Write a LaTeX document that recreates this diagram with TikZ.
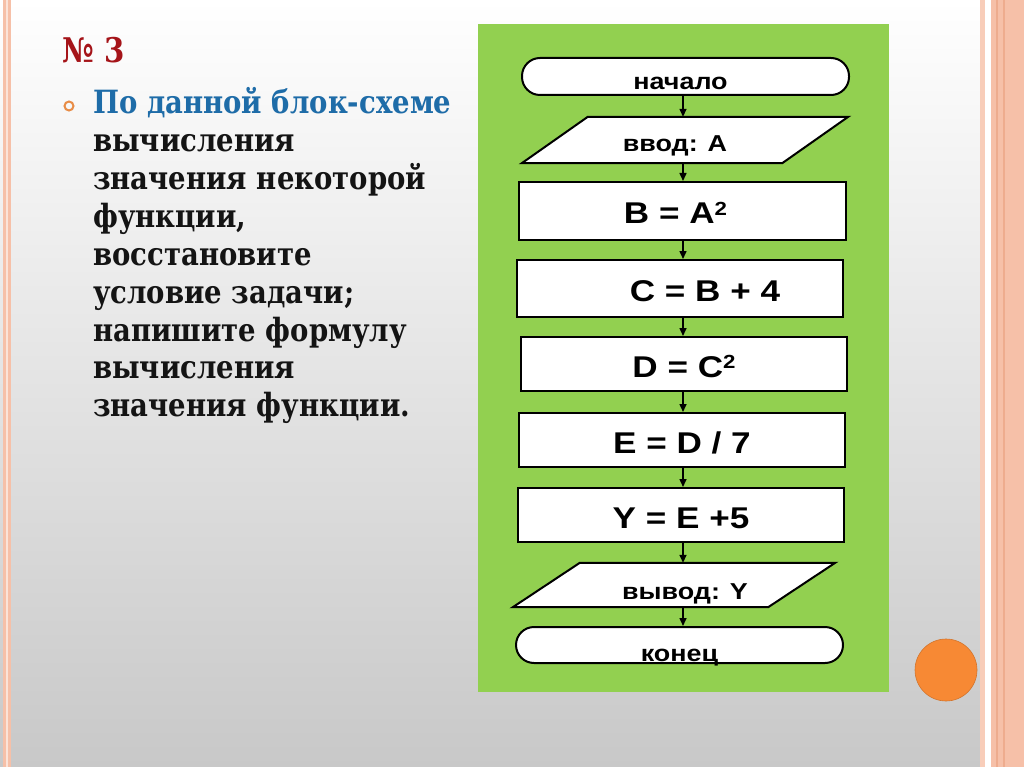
\documentclass[tikz,border=0pt]{standalone}
\usepackage{fontspec}
\newfontfamily\flowfont[FakeStretch=1.17]{Liberation Sans}
\newfontfamily\slidefont[FakeStretch=0.86]{DejaVu Serif}
\usetikzlibrary{arrows.meta}
\pgfdeclarelayer{bglayer}
\pgfdeclarelayer{shapelayer}
\pgfsetlayers{bglayer,shapelayer,main}
\definecolor{panelgreen}{RGB}{146,208,80}
\definecolor{salmon}{RGB}{246,192,168}
\definecolor{salmondk}{RGB}{238,172,142}
\definecolor{orangec}{RGB}{247,137,52}
\definecolor{titlered}{RGB}{165,20,25}
\definecolor{bluetext}{RGB}{30,108,168}
\definecolor{bulletor}{RGB}{232,140,70}
\definecolor{textblack}{RGB}{20,20,20}
\definecolor{bgbottom}{RGB}{200,200,200}
\definecolor{bgmid}{RGB}{238,238,238}
\newcommand\sqtwo{\raisebox{9pt}{\fontsize{19}{19}\selectfont 2}}
\begin{document}
\begin{tikzpicture}[x=1pt,y=-1pt,
  box/.style={draw=black,line width=2pt,fill=white,inner sep=0pt,text height=26pt,text depth=0pt,
    font=\flowfont\bfseries\fontsize{30}{34}\selectfont},
  term/.style={box,rounded corners=18pt,font=\flowfont\bfseries\fontsize{23}{27}\selectfont},
  para/.style={inner sep=0pt,text height=26pt,text depth=0pt,
    font=\flowfont\bfseries\fontsize{23}{27}\selectfont},
  paraline/.style={draw=black,line width=2pt,fill=white,line join=miter},
  arr/.style={-{Triangle[length=8pt,width=7pt]},line width=1.5pt,draw=black},
  lefttext/.style={anchor=base west,inner sep=0pt,text=textblack,
    font=\slidefont\bfseries\fontsize{32}{38}\selectfont}
]
\useasboundingbox (0,0) rectangle (1024,767);
\begin{pgfonlayer}{bglayer}
\shade[top color=white,middle color=bgmid,bottom color=bgbottom] (0,0) rectangle (1024,767);
\fill[salmon] (3,0) rectangle (11,767);
\fill[salmon!45!white] (6,0) rectangle (8,767);
\fill[salmon!80!white] (980,0) rectangle (985,767);
\fill[white] (985,0) rectangle (991,767);
\fill[salmon] (991,0) rectangle (1024,767);
\fill[salmondk] (996,0) rectangle (998,767);
\fill[salmondk] (1003,0) rectangle (1005,767);
\fill[panelgreen] (478,24) rectangle (889,692);
\end{pgfonlayer}

\node[circle,fill=orangec,draw=orangec!85!black,line width=0.6pt,minimum size=62pt,inner sep=0pt] (dot) at (946,670) {};

% left text
\node[anchor=base west,inner sep=0pt,text=titlered,font=\slidefont\bfseries\fontsize{34}{34}\selectfont] (title) at (62,63) {№ 3};
\node[circle,draw=bulletor,line width=2pt,minimum size=9pt,inner sep=0pt] (bullet) at (69,106) {};
\node[lefttext,text=bluetext] (t1) at (93,114) {По данной блок-схеме};
\node[lefttext] (t2) at (93,152) {вычисления};
\node[lefttext] (t3) at (93,190) {значения некоторой};
\node[lefttext] (t4) at (93,227) {функции,};
\node[lefttext] (t5) at (93,265) {восстановите};
\node[lefttext] (t6) at (93,303) {условие задачи;};
\node[lefttext] (t7) at (93,341) {напишите формулу};
\node[lefttext] (t8) at (93,378) {вычисления};
\node[lefttext] (t9) at (93,416) {значения функции.};

% flowchart
\node[term,minimum width=327pt,minimum height=37pt,text height=27pt] (start) at (685.5,76.5) {начало\hspace*{10pt}};
\node[para,minimum width=326pt,minimum height=46pt,text height=24pt] (vvod) at (685,140) {ввод: A\hspace*{20pt}};
\node[box,minimum width=327pt,minimum height=58pt] (b) at (682.5,211) {B = A\sqtwo\hspace*{14pt}};
\node[box,minimum width=326pt,minimum height=57pt] (c) at (680,288.5) {\hspace*{50pt}C = B + 4};
\node[box,minimum width=326pt,minimum height=54pt] (d) at (684,364) {D = C\sqtwo};
\node[box,minimum width=326pt,minimum height=54pt] (e) at (682,440) {E = D / 7};
\node[box,minimum width=326pt,minimum height=54pt] (y) at (681,515) {Y = E +5};
\node[para,minimum width=322pt,minimum height=44pt,text height=28pt] (vyvod) at (674,585) {\hspace*{22pt}вывод: Y};
\node[term,minimum width=327pt,minimum height=36pt,text height=32pt] (end) at (679.5,645) {конец};

\begin{pgfonlayer}{shapelayer}
\draw[paraline] ([xshift=66pt]vvod.north west) -- (vvod.north east) -- ([xshift=-66pt]vvod.south east) -- (vvod.south west) -- cycle;
\draw[paraline] ([xshift=67pt]vyvod.north west) -- (vyvod.north east) -- ([xshift=-67pt]vyvod.south east) -- (vyvod.south west) -- cycle;
\end{pgfonlayer}

\coordinate (ax) at (683,0);
\draw[arr] (start.south -| ax) -- (vvod.north -| ax);
\draw[arr] (vvod.south -| ax) -- (b.north -| ax);
\draw[arr] (b.south -| ax) -- (c.north -| ax);
\draw[arr] (c.south -| ax) -- (d.north -| ax);
\draw[arr] (d.south -| ax) -- (e.north -| ax);
\draw[arr] (e.south -| ax) -- (y.north -| ax);
\draw[arr] (y.south -| ax) -- (vyvod.north -| ax);
\draw[arr] (vyvod.south -| ax) -- (end.north -| ax);
\end{tikzpicture}
\end{document}
